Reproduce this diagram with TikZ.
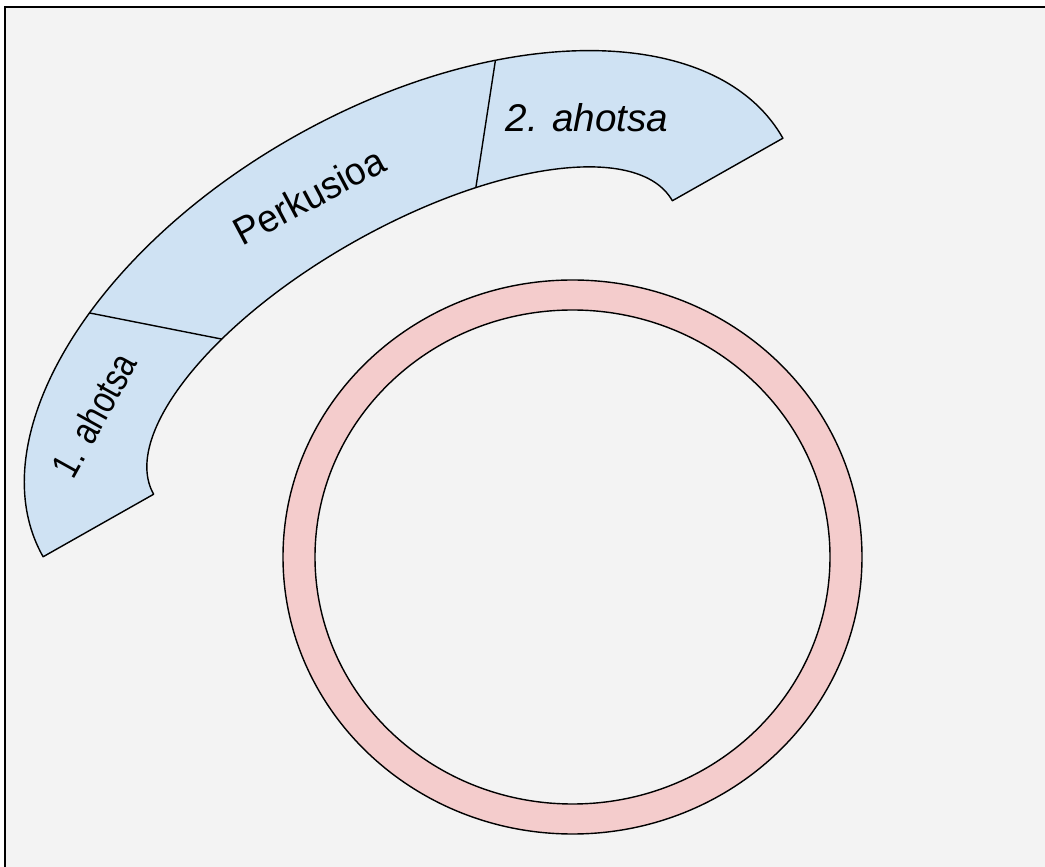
\documentclass[tikz,border=0pt]{standalone}
\usepackage{fontspec}
\setmainfont{Liberation Sans}
\definecolor{paper}{HTML}{F3F3F3}
\definecolor{voiceblue}{HTML}{CFE2F3}
\definecolor{ringpink}{HTML}{F4CCCC}
\tikzset{
frame/.style={draw, line width=1pt, fill=paper},
band/.style={draw, line width=0.8pt, fill=voiceblue, line join=round},
divider/.style={draw, line width=0.8pt},
ring/.style={draw, line width=0.8pt, fill=ringpink, even odd rule},
part/.style={font=\fontsize{22}{26}\selectfont, inner sep=0pt}
}

\begin{document}
\begin{tikzpicture}[x=0.02cm, y=0.02cm]
	\useasboundingbox (0,0) rectangle (1045,866);
	\path[frame] (5,-20) rectangle (1065,859);
	\begin{scope}[shift={(413,518.5)}, rotate=29.5]
		\path[band] (-425,0) arc[start angle=180, end angle=0, x radius=425, y radius=242]
			-- (298,0) arc[start angle=0, end angle=180, x radius=298, y radius=121] -- cycle;
		\coordinate (out1) at ({425*cos(128.5)},{242*sin(128.5)});
		\coordinate (in1) at ({298*cos(123)},{121*sin(123)});
		\coordinate (out2) at ({425*cos(59.9)},{242*sin(59.9)});
		\coordinate (in2) at ({298*cos(63.4)},{121*sin(63.4)});
	\end{scope}
	\path[divider] (out1) -- (in1);
	\path[divider] (out2) -- (in2);
	\node[part, rotate=61] (voice1) at (94,451) {\scalebox{0.82}[1]{1. ahotsa}};
	\node[part, rotate=28] (perc) at (309,670) {\scalebox{0.96}[1]{Perkusioa}};
	\node[part, font={\fontsize{22}{26}\selectfont\itshape}] (voice2) at (587,748.5) {2. ahotsa};
	\path[ring] (572.5,309) ellipse [x radius=289.5, y radius=277]
		(572.5,309) ellipse [x radius=257.5, y radius=247];
\end{tikzpicture}
\end{document}
